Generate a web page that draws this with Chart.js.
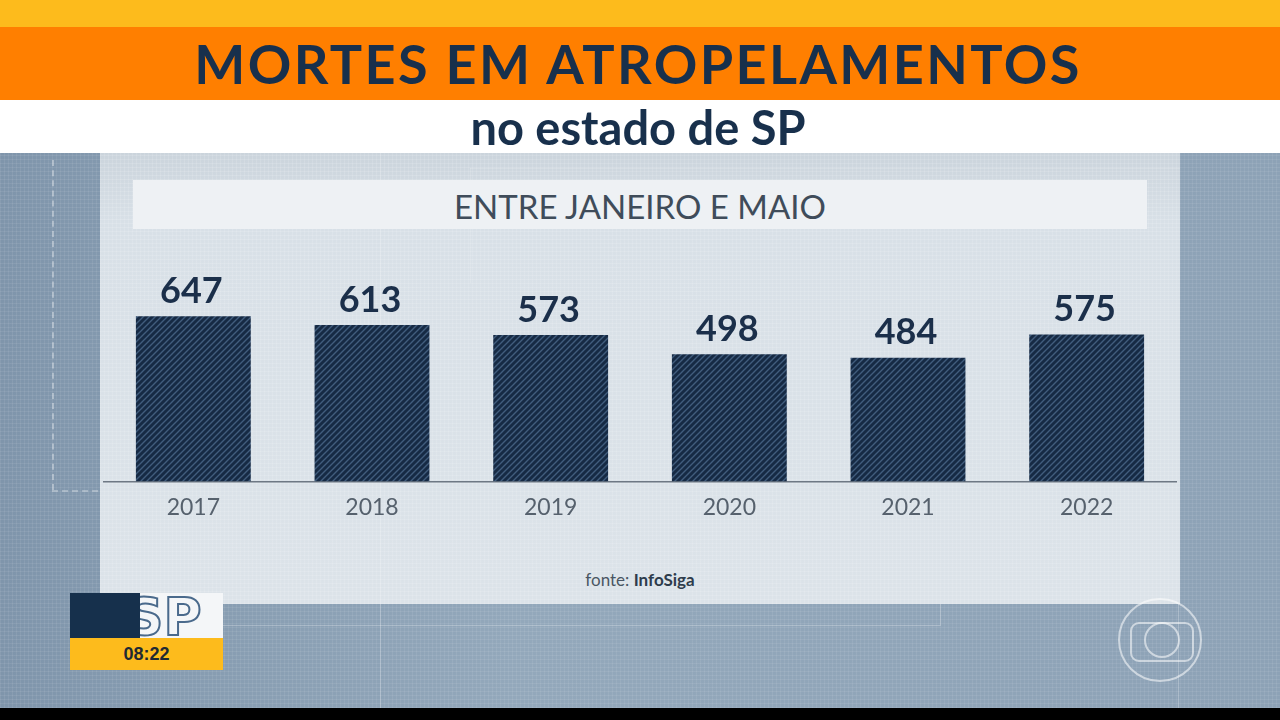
<!DOCTYPE html>
<html>
<head>
<meta charset="utf-8">
<script src="https://cdn.jsdelivr.net/npm/chart.js@4"></script>
<style>
  html, body { margin:0; padding:0; width:1280px; height:720px; overflow:hidden; background:#000; }
  #frame { position:absolute; left:0; top:0; width:1280px; height:708px; overflow:hidden;
    background-color:#8DA2B6;
    background-image:
      repeating-linear-gradient(0deg, rgba(255,255,255,0.07) 0 1px, transparent 1px 4px),
      repeating-linear-gradient(90deg, rgba(255,255,255,0.07) 0 1px, transparent 1px 4px),
      linear-gradient(90deg, #7F95AB, #93A8BB 40%, #8DA2B6); }
  #yellow { position:absolute; left:0; top:0; width:1280px; height:27px; background:#FDBB1C; }
  #orange { position:absolute; left:0; top:27px; width:1280px; height:73px; background:#FF7F00;
    font:700 54px Lato, "Open Sans", sans-serif; color:#18304C; text-align:center; line-height:74px; letter-spacing:2.4px; text-indent:-4px; }
  #white { position:absolute; left:0; top:100px; width:1280px; height:53px; background:#FFFFFF;
    font:700 47px Lato, "Open Sans", sans-serif; color:#18304C; text-align:center; line-height:54px; text-indent:-4px; }
  #panel { position:absolute; left:100px; top:153px; width:1080px; height:451px;
    background-color:#D6DEE5;
    background-image:
      repeating-linear-gradient(0deg, rgba(255,255,255,0.12) 0 1px, transparent 1px 4px),
      repeating-linear-gradient(90deg, rgba(255,255,255,0.12) 0 1px, transparent 1px 4px),
      linear-gradient(180deg, #CBD4DC, #D8E0E7 15%, #DCE3E9); }
  #sub { position:absolute; left:133px; top:180px; width:1014px; height:49px; background:#EEF1F4;
    font:400 33px Lato, "Open Sans", sans-serif; color:#3F4C5A; text-align:center; line-height:52px; }
  #fonte { position:absolute; left:0; top:569px; width:1280px; text-align:center;
    font:400 17px Lato, "Open Sans", sans-serif; color:#4A5663; }
  #fonte b { color:#2E3C4C; }
  .vd { position:absolute; border-left:2px dashed rgba(255,255,255,0.35); }
  .hd { position:absolute; border-top:2px dashed rgba(255,255,255,0.3); }
  .ln { position:absolute; background:rgba(255,255,255,0.25); }
  #chartbox { position:absolute; left:100px; top:150px; width:1080px; height:383px; }
  #logo { position:absolute; left:70px; top:593px; width:153px; height:77px; }
  #logo .navy { position:absolute; left:0; top:0; width:70px; height:45px; background:#16304C; z-index:2; }
  #logo .wh { position:absolute; left:70px; top:0; width:83px; height:45px; background:#F4F6F8;
    font:700 52px "DejaVu Sans", sans-serif; color:transparent; -webkit-text-stroke:2px #4A6A8C; line-height:48px; text-indent:-14px; overflow:hidden; }
  #logo .time { position:absolute; left:0; top:45px; width:153px; height:32px; background:#FDBB1C;
    font:700 18px "Liberation Sans", sans-serif; color:#1F2A33; text-align:center; line-height:32px; }
  #globo { position:absolute; left:1118px; top:598px; width:84px; height:84px; border:2px solid rgba(255,255,255,0.55); border-radius:50%; box-sizing:border-box; }
  #globo .r { position:absolute; left:10px; top:22px; width:60px; height:36px; border:2px solid rgba(255,255,255,0.55); border-radius:9px; }
  #globo .c { position:absolute; left:24px; top:22px; width:32px; height:32px; border:2px solid rgba(255,255,255,0.55); border-radius:50%; }
</style>
</head>
<body>
<div id="frame">
  <div class="vd" style="left:52px;top:160px;height:330px;"></div>
  <div class="hd" style="left:52px;top:490px;width:1120px;"></div>
  <div class="ln" style="left:380px;top:604px;width:1px;height:104px;"></div>
  <div class="ln" style="left:150px;top:625px;width:790px;height:1px;"></div>
  <div class="ln" style="left:940px;top:604px;width:1px;height:22px;"></div>
  <div class="ln" style="left:1178px;top:604px;width:1px;height:104px;"></div>
  <div id="panel"></div>
  <div class="ln" style="left:380px;top:153px;width:1px;height:451px;opacity:0.6"></div>
  <div class="ln" style="left:470px;top:168px;width:710px;height:1px;opacity:0.6"></div>
  <div class="ln" style="left:470px;top:168px;width:1px;height:115px;opacity:0.6"></div>
  <div id="sub">ENTRE JANEIRO E MAIO</div>
  <div id="chartbox"><canvas id="chart"></canvas></div>
  <div id="fonte">fonte: <b>InfoSiga</b></div>
  <div id="logo"><div class="navy"></div><div class="wh">SP</div><div class="time">08:22</div></div>
  <div id="globo"><div class="r"></div><div class="c"></div></div>
  <div id="yellow"></div>
  <div id="orange">MORTES EM ATROPELAMENTOS</div>
  <div id="white">no estado de SP</div>
</div>
<script>
// dados: mortes entre janeiro e maio
const years = ["2017", "2018", "2019", "2020", "2021", "2022"];
const deaths = [647, 613, 573, 498, 484, 575];

// hatch for the bars
function hatch(){
  const c = document.createElement("canvas");
  c.width = 6; c.height = 6;
  const g = c.getContext("2d");
  g.fillStyle = "#162A44";
  g.fillRect(0, 0, 6, 6);
  g.strokeStyle = "#415D7D";
  g.lineWidth = 1.4;
  g.beginPath();
  g.moveTo(-1, 7); g.lineTo(7, -1);
  g.moveTo(-4, 4); g.lineTo(4, -4);
  g.moveTo(2, 10); g.lineTo(10, 2);
  g.stroke();
  return g.createPattern(c, "repeat");
}

const valueLabels = {
  id: "valueLabels",
  afterDatasetsDraw(chart){
    const ctx = chart.ctx;
    const meta = chart.getDatasetMeta(0);
    ctx.save();
    ctx.font = "700 36px Lato, 'Open Sans', sans-serif";
    ctx.fillStyle = "#1B2F4A";
    ctx.textAlign = "center";
    ctx.textBaseline = "bottom";
    meta.data.forEach(function(bar, i){
      ctx.fillText(deaths[i], bar.x - 2, bar.y - 7);
    });
    ctx.restore();
  }
};

const context = document.getElementById("chart").getContext("2d");
const chart = new Chart(context, {
  type: "bar",
  data: {
    labels: years,
    datasets: [{
      data: deaths,
      backgroundColor: hatch(),
      borderWidth: 0,
      barPercentage: 0.643,
      categoryPercentage: 1
    }]
  },
  options: {
    responsive: true,
    maintainAspectRatio: false,
    animation: false,
    layout: { padding: { left: 4, right: 4, top: 0, bottom: 0 } },
    plugins: { legend: { display: false }, tooltip: { enabled: false } },
    scales: {
      x: {
        grid: { display: false, drawTicks: false },
        border: { display: true, color: "#6E7884", width: 1.5 },
        ticks: { color: "#56616D", padding: 12, font: { family: "Lato, 'Open Sans', sans-serif", size: 23 } }
      },
      y: {
        display: false,
        min: 0,
        max: 1298
      }
    }
  },
  plugins: [valueLabels]
});
</script>
</body>
</html>
